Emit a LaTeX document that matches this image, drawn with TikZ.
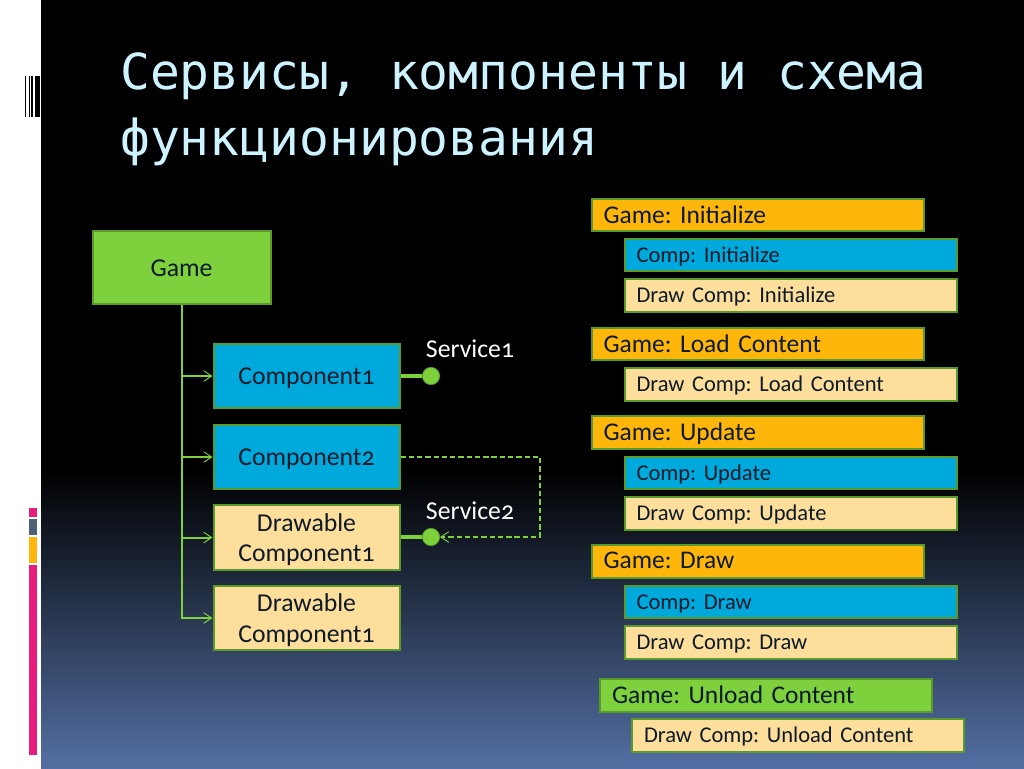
\documentclass[tikz,border=0pt]{standalone}
\usepackage{fontspec}
\usetikzlibrary{arrows.meta,shadings}
\setmainfont[Numbers=OldStyle]{Carlito}
\newfontfamily\titlefont{DejaVu Sans Mono}
\frenchspacing
\newcommand{\lowr}[2]{\raisebox{-#1}[\height][\depth]{#2}}
\definecolor{grn}{HTML}{7ED13C}
\definecolor{grnd}{HTML}{5A9A2C}
\definecolor{blu}{HTML}{00A9DC}
\definecolor{org}{HTML}{FFB60A}
\definecolor{crm}{HTML}{FEDE9B}
\definecolor{pnk}{HTML}{E81C7C}
\definecolor{gry}{HTML}{4E5F78}
\definecolor{botc}{HTML}{536FA3}
\definecolor{ttl}{HTML}{CDF3FF}
\definecolor{ink}{HTML}{0C1A2A}
\tikzset{
 px/.style={x=0.75pt,y=-0.75pt},
 bx/.style={draw=grnd,line width=1.5pt,inner sep=0pt,align=center,text=ink},
 lbox/.style={bx,minimum width=139.5pt,minimum height=48.5pt,font=\fontsize{19.3}{23}\selectfont},
 gamebox/.style={bx,fill=grn,minimum width=133.5pt,minimum height=54.25pt,font=\fontsize{19.3}{21}\selectfont},
 rbox/.style={bx,minimum width=249pt,minimum height=24.5pt,text width=231pt,align=left,font=\fontsize{#1}{20}\selectfont,text depth=0.25ex},
 rbox/.default=16.9,
 srv/.style={circle,fill=grn,draw=grnd,line width=0.5pt,minimum size=13pt,inner sep=0pt},
 wire/.style={draw=grn,line width=1.5pt},
 tip/.style={-{Straight Barb[length=6pt,width=8pt,line width=0.7pt]}},
 lbl/.style={text=white,font=\fontsize{19.3}{22}\selectfont,inner sep=0pt},
 ttlt/.style={text=ttl,font=\titlefont\fontsize{37.2}{46}\selectfont,anchor=base west,inner sep=0pt},
}
\begin{document}
\begin{tikzpicture}[px]
\useasboundingbox (0,0) rectangle (1024,768);
\fill[white] (0,0) rectangle (1024,768);
\fill[black] (41,0) rectangle (1024,470);
\shade[top color=black,bottom color=botc] (41,470) rectangle (1024,768);
% side marks
\fill[black] (25,76) rectangle (25.8,117);
\fill[black] (28.5,76) rectangle (29.3,117);
\fill[black] (30.7,76) rectangle (33.3,117);
\fill[black] (35,76) rectangle (40,117);
\fill[pnk] (28.5,508) rectangle (37,517);
\fill[gry] (28.5,519) rectangle (37,534.5);
\fill[org] (28.5,537) rectangle (37,563);
\fill[pnk] (28.5,565) rectangle (37,755);
% title
\node[ttlt] (t1) at (120,89) {Сервисы, компоненты и схема};
\node[ttlt] (t2) at (120,155) {функционирования};
% left diagram
\node[gamebox] (game) at (181.5,267.5) {\lowr{0.8pt}{Game}};
\node[lbox,fill=blu] (c1) at (306.5,376) {\lowr{1.5pt}{Component1}};
\node[lbox,fill=blu] (c2) at (306.5,457) {\lowr{1.5pt}{Component2}};
\node[lbox,fill=crm] (d1) at (306.5,537.5) {\lowr{1.5pt}{Drawable}\\\lowr{1.5pt}{Component1}};
\node[lbox,fill=crm] (d2) at (306.5,618) {\lowr{1.5pt}{Drawable}\\\lowr{1.5pt}{Component1}};
\draw[wire,tip] (game.south) |- (c1.west);
\draw[wire,tip] (game.south) |- (c2.west);
\draw[wire,tip] (game.south) |- (d1.west);
\draw[wire,tip] (game.south) |- (d2.west);
\node[srv] (s1) at (431,376) {};
\node[srv] (s2) at (431,537) {};
\draw[draw=grn,line width=3.2pt] (c1.east) -- (s1.west);
\draw[draw=grn,line width=3.2pt] (d1.east |- s2) -- (s2.west);
\coordinate (bend1) at (540,457);
\coordinate (bend2) at (540,537);
\draw[draw=grn,line width=1pt,tip,dash pattern=on 4pt off 2.2pt] (c2.east) -- (bend1) -- (bend2) -- (s2.east);
\node[lbl] (l1) at (470,349) {Service1};
\node[lbl] (l2) at (470,510.5) {Service2};
% right column
\node[rbox=19.1,fill=org] (r1) at (757.5,215) {Game: Initialize};
\node[rbox,fill=blu] (r2) at (790.5,255) {\lowr{0.5pt}{Comp: Initialize}};
\node[rbox,fill=crm] (r3) at (790.5,295.5) {Draw Comp: Initialize};
\node[rbox=19.1,fill=org] (r4) at (757.5,344) {Game: Load Content};
\node[rbox,fill=crm] (r5) at (790.5,384.5) {Draw Comp: Load Content};
\node[rbox=19.1,fill=org] (r6) at (757.5,432.5) {Game: Update};
\node[rbox,fill=blu] (r7) at (790.5,473) {\lowr{0.5pt}{Comp: Update}};
\node[rbox,fill=crm] (r8) at (790.5,513.5) {Draw Comp: Update};
\node[rbox=19.1,fill=org] (r9) at (757.5,561.5) {Game: Draw};
\node[rbox,fill=blu] (r10) at (790.5,602) {\lowr{0.5pt}{Comp: Draw}};
\node[rbox,fill=crm] (r11) at (790.5,642.5) {Draw Comp: Draw};
\node[rbox=19.1,fill=grn] (r12) at (766,695.5) {Game: Unload Content};
\node[rbox,fill=crm] (r13) at (798,735.5) {Draw Comp: Unload Content};
\end{tikzpicture}
\end{document}
